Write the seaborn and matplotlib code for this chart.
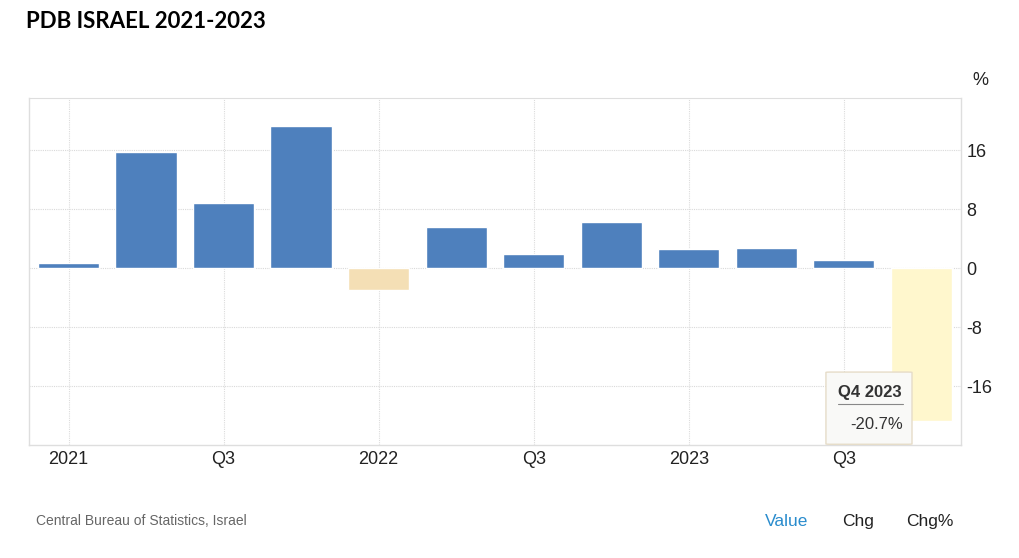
import pandas as pd
import seaborn as sns
import matplotlib.pyplot as plt
from matplotlib.patches import FancyBboxPatch

# quarterly GDP growth, annualised %
quarters = ["Q1 2021", "Q2 2021", "Q3 2021", "Q4 2021",
            "Q1 2022", "Q2 2022", "Q3 2022", "Q4 2022",
            "Q1 2023", "Q2 2023", "Q3 2023", "Q4 2023"]
growth = [0.7, 15.8, 8.8, 19.3, -3.0, 5.6, 1.9, 6.25, 2.6, 2.75, 1.1, -20.7]
bar_kind = ["pos", "pos", "pos", "pos", "neg", "pos", "pos", "pos", "pos", "pos", "pos", "hover"]
tick_labels = ["2021", "", "Q3", "", "2022", "", "Q3", "", "2023", "", "Q3", ""]
y_ticks = [-16, -8, 0, 8, 16]

colors = {"pos": "#4e80bd", "neg": "#f4dfb5", "hover": "#fff7cd"}

sns.set_style("white")
plt.rcParams['font.family'] = ['Liberation Sans', 'DejaVu Sans']
plt.rcParams['axes.unicode_minus'] = False

df = pd.DataFrame({"quarter": quarters, "growth": growth, "kind": bar_kind})

fig = plt.figure(figsize=(10.2, 5.58), dpi=100)
ax = fig.add_axes([0.0284, 0.2025, 0.9136, 0.6219])

sns.barplot(data=df, x="quarter", y="growth", hue="kind", palette=colors,
            dodge=False, legend=False, width=0.79, saturation=1, ax=ax)

ax.set_xlim(-0.51, 11.51)
ax.set_ylim(-24.0, 23.1)
ax.set_xlabel("")
ax.set_ylabel("")

# grid: dotted light lines
ax.set_yticks(y_ticks)
ax.set_yticklabels([str(v) for v in y_ticks])
ax.set_xticks(range(len(quarters)))
ax.set_xticklabels(tick_labels)
for v in y_ticks:
    ax.axhline(v, color="#d9d9d9", lw=0.8, ls=(0, (1, 1)), zorder=0)
for i, lab in enumerate(tick_labels):
    if lab:
        ax.axvline(i, color="#dcdcdc", lw=0.8, ls=(0, (1, 1)), zorder=0)

ax.yaxis.tick_right()
ax.tick_params(axis="y", length=0, pad=4, labelsize=13, labelcolor="#222222")
ax.tick_params(axis="x", length=0, pad=4, labelsize=13, labelcolor="#222222")

for side in ["left", "bottom", "right"]:
    ax.spines[side].set_color("#dedede")
    ax.spines[side].set_linewidth(1)
ax.spines["top"].set_color("#dedede")
ax.spines["top"].set_linestyle((0, (1, 1)))
ax.spines["top"].set_linewidth(0.8)

ax.text(1.012, 1.025, "%", transform=ax.transAxes, ha="left", va="bottom",
        fontsize=13, color="#222222")

# tooltip over the last bar
box = FancyBboxPatch((9.77, -23.9), 1.11, 9.8, boxstyle="round,pad=0,rounding_size=0.05",
                     facecolor="#f9f9f7", edgecolor="#e6dcc8", lw=1, zorder=5, clip_on=False)
ax.add_patch(box)
ax.text(10.34, -16.85, "Q4 2023", ha="center", va="center", fontsize=12,
        fontweight="bold", color="#333333", zorder=6)
ax.plot([9.93, 10.77], [-18.5, -18.5], color="#888888", lw=0.8, zorder=6)
ax.text(10.77, -21.2, "-20.7%", ha="right", va="center", fontsize=12,
        color="#333333", zorder=6)

fig.text(0.025, 0.962, "PDB ISRAEL 2021-2023", ha="left", va="center",
         fontsize=16, fontweight="bold", family=["Lato", "DejaVu Sans"], color="black")
fig.text(0.035, 0.066, "Central Bureau of Statistics, Israel", ha="left", va="center",
         fontsize=10, color="#666666")
fig.text(0.750, 0.066, "Value", ha="left", va="center", fontsize=12.5, color="#2a8ccd")
fig.text(0.826, 0.066, "Chg", ha="left", va="center", fontsize=12.5, color="#222222")
fig.text(0.888, 0.066, "Chg%", ha="left", va="center", fontsize=12.5, color="#222222")

fig.savefig("out.png", dpi=100)
